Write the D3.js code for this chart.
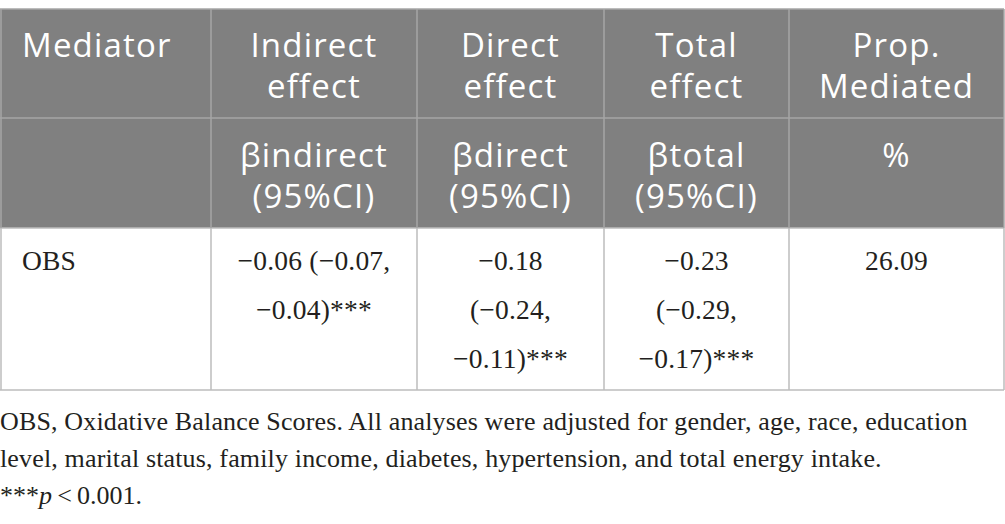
<!DOCTYPE html>
<html>

<head>
  <title>Mediation table</title>
</head>

<style>
  body,
  html {
    margin: 0;
    padding: 0;
    background: #fff;
  }
</style>

<body>

  <svg id="svg" width="1005" height="524"></svg>

  <script src="https://d3js.org/d3.v7.min.js"></script>
  <script>

    // table content
    const headerTop = [['Mediator'], ['Indirect', 'effect'], ['Direct', 'effect'], ['Total', 'effect'], ['Prop.', 'Mediated']]
    const headerSub = [[], ['\u03b2indirect', '(95%CI)'], ['\u03b2direct', '(95%CI)'], ['\u03b2total', '(95%CI)'], ['%']]
    const bodyRow = [
      ['OBS'],
      ['\u22120.06 (\u22120.07,', '\u22120.04)***'],
      ['\u22120.18', '(\u22120.24,', '\u22120.11)***'],
      ['\u22120.23', '(\u22120.29,', '\u22120.17)***'],
      ['26.09']
    ]
    const notes = [
      'OBS, Oxidative Balance Scores. All analyses were adjusted for gender, age, race, education',
      'level, marital status, family income, diabetes, hypertension, and total energy intake.'
    ]

    // layout
    const colWidths = [211, 206, 187, 185, 215]
    const edges = [0, ...d3.cumsum(colWidths)]
    const rowEdges = [9, 118, 228, 390]

    const x = d3.scaleOrdinal().domain(d3.range(5)).range(edges.slice(0, 5))
    const svg = d3.select('#svg')

    // header background
    svg.append('rect')
      .attr('x', 0).attr('y', rowEdges[0])
      .attr('width', edges[5]).attr('height', rowEdges[2] - rowEdges[0])
      .attr('fill', '#808080')

    // cell grid lines
    const hLines = rowEdges.map((y, i) => ({ y, c: i === 0 || i === 1 ? '#a6a6a6' : '#bdbdbd' }))
    svg.selectAll('line.h').data(hLines).join('line')
      .attr('x1', 0).attr('x2', edges[5])
      .attr('y1', d => d.y).attr('y2', d => d.y)
      .attr('stroke', d => d.c).attr('stroke-width', 1.5)

    const vLines = []
    edges.forEach(e => {
      vLines.push({ x: e, y1: rowEdges[0], y2: rowEdges[2], c: '#a6a6a6' })
      vLines.push({ x: e, y1: rowEdges[2], y2: rowEdges[3], c: '#bdbdbd' })
    })
    svg.selectAll('line.v').data(vLines).join('line')
      .attr('x1', d => Math.max(1, Math.min(1004, d.x))).attr('x2', d => Math.max(1, Math.min(1004, d.x)))
      .attr('y1', d => d.y1).attr('y2', d => d.y2)
      .attr('stroke', d => d.c).attr('stroke-width', 1.5)

    function cellText(rows, y0, lh, font, size, color, spacing) {
      rows.forEach((lines, i) => {
        const left = i === 0
        const t = svg.append('text')
          .attr('x', left ? 22 : x(i) + colWidths[i] / 2)
          .attr('text-anchor', left ? 'start' : 'middle')
          .attr('font-family', font)
          .attr('font-size', size)
          .attr('letter-spacing', spacing)
          .attr('fill', color)
        t.selectAll('tspan').data(lines).join('tspan')
          .attr('x', left ? 22 : x(i) + colWidths[i] / 2)
          .attr('y', (d, j) => y0 + j * lh)
          .text(d => d)
      })
    }

    cellText(headerTop, 57, 41, '"Open Sans", sans-serif', 33, '#ffffff', 1.2)
    cellText(headerSub, 167, 41, '"Open Sans", sans-serif', 33, '#ffffff', 1.2)
    cellText(bodyRow, 270, 49, '"Liberation Serif", serif', 27.5, '#231f20', 0.2)

    // footnotes
    svg.selectAll('text.note').data(notes).join('text')
      .attr('class', 'note')
      .attr('x', 0)
      .attr('y', (d, i) => 430 + i * 37)
      .attr('font-family', '"Liberation Serif", serif')
      .attr('font-size', 26)
      .attr('letter-spacing', 0.15)
      .attr('fill', '#231f20')
      .text(d => d)

    const sig = svg.append('text')
      .attr('x', 0).attr('y', 504)
      .attr('font-family', '"Liberation Serif", serif')
      .attr('font-size', 26)
      .attr('fill', '#231f20')
    sig.append('tspan').text('***')
    sig.append('tspan').attr('font-style', 'italic').text('p')
    sig.append('tspan').text('\u2009<\u20090.001.')

  </script>

</body>

</html>
